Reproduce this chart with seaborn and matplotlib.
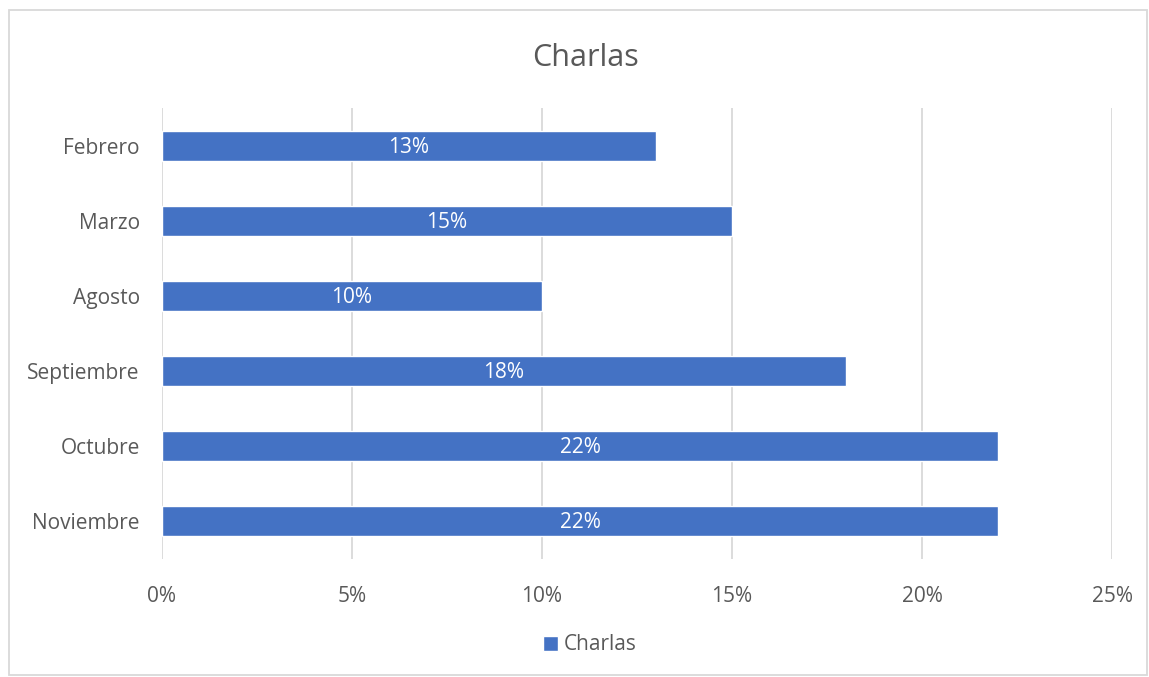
import matplotlib
matplotlib.use("Agg")
import matplotlib.pyplot as plt
import seaborn as sns
import pandas as pd
from matplotlib.ticker import FuncFormatter, MultipleLocator
from matplotlib.patches import Rectangle

months = ["Febrero", "Marzo", "Agosto", "Septiembre", "Octubre", "Noviembre"]
values = [0.13, 0.15, 0.10, 0.18, 0.22, 0.22]
series_name = "Charlas"

sns.set_theme(style="white")
plt.rcParams['font.family'] = ['Open Sans', 'DejaVu Sans']

df = pd.DataFrame({"Mes": months, "Valor": values})

fig = plt.figure(figsize=(11.49, 6.77), dpi=100)
ax = fig.add_axes([162/1149, 1-558.5/677, (1112-162)/1149, (558.5-108)/677])

sns.barplot(data=df, y="Mes", x="Valor", order=months, color="#4472C4",
            saturation=1, width=0.4, ax=ax, zorder=3, label=series_name)

ax.set_xlim(0, 0.25)
ax.set_ylim(5.5, -0.5)
ax.xaxis.set_major_locator(MultipleLocator(0.05))
ax.xaxis.set_major_formatter(FuncFormatter(lambda v, p: f"{v*100:.0f}%"))
ax.grid(axis="x", color="#D9D9D9", linewidth=1.3, zorder=0)
ax.set_axisbelow(True)
for s in ax.spines.values():
    s.set_visible(False)
ax.set_xlabel("")
ax.set_ylabel("")
ax.tick_params(axis="both", length=0, labelsize=15, labelcolor="#595959")
ax.tick_params(axis="x", pad=20)
ax.tick_params(axis="y", pad=16)

for i, v in enumerate(values):
    ax.text(v / 2, i + 0.025, f"{v*100:.0f}%", ha="center", va="center",
            color="white", fontsize=15, zorder=4)

fig.text(585/1149, 1-58/677, "Charlas", ha="center", va="center",
         fontsize=22, color="#595959")

leg = ax.legend(loc="center", bbox_to_anchor=(590/1149, 1-645/677), bbox_transform=fig.transFigure,
                frameon=False, fontsize=15, handlelength=0.7, handleheight=0.7,
                handletextpad=0.3, labelcolor="#595959")

fig.patches.append(Rectangle((9/1149, 2/677), 1138/1149, 665/677, transform=fig.transFigure,
                             fill=False, edgecolor="#D9D9D9", linewidth=1.3))

fig.savefig("out.png", dpi=100)
